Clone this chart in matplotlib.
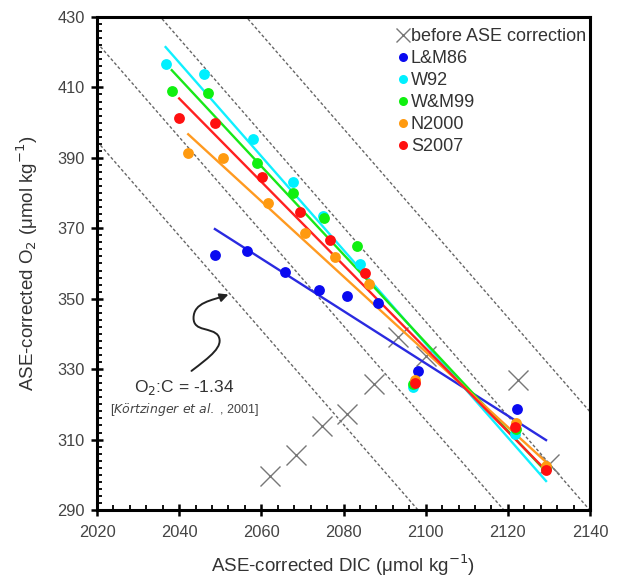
import numpy as np
import matplotlib
matplotlib.use("Agg")
import matplotlib.pyplot as plt
from matplotlib.path import Path
from matplotlib.patches import FancyArrowPatch
from matplotlib.lines import Line2D
from matplotlib.ticker import MultipleLocator

plt.rcParams['font.family'] = ['Liberation Sans', 'DejaVu Sans']

# before ASE correction (gray crosses)
before_dic = [2062.1, 2068.4, 2074.7, 2080.9, 2087.4, 2093.3, 2100.2, 2122.4, 2130.0]
before_o2 = [299.6, 305.6, 313.8, 317.2, 325.7, 339.0, 333.7, 326.9, 303.0]

series_names = ["L&M86", "W92", "W&M99", "N2000", "S2007"]
lm86_dic = [2048.7, 2056.4, 2065.8, 2074.1, 2080.9, 2088.5, 2098.2, 2122.2, 2129.3]
lm86_o2 = [362.4, 363.5, 357.6, 352.6, 350.8, 348.8, 329.5, 318.6, 302.0]
w92_dic = [2036.7, 2046.0, 2058.0, 2067.6, 2075.0, 2083.9, 2097.0, 2121.8, 2129.3]
w92_o2 = [416.6, 413.9, 395.3, 383.2, 373.5, 359.8, 325.0, 311.5, 302.0]
wm99_dic = [2038.2, 2046.9, 2058.9, 2067.8, 2075.3, 2083.4, 2097.0, 2122.0, 2129.3]
wm99_o2 = [409.1, 408.3, 388.6, 380.1, 372.8, 365.0, 325.8, 313.0, 302.0]
n2000_dic = [2042.2, 2050.7, 2061.7, 2070.6, 2077.9, 2086.3, 2097.5, 2122.0, 2129.3]
n2000_o2 = [391.3, 390.1, 377.2, 368.6, 361.9, 354.1, 327.0, 314.6, 302.5]
s2007_dic = [2040.0, 2048.8, 2060.1, 2069.4, 2076.7, 2085.2, 2097.4, 2121.8, 2129.3]
s2007_o2 = [401.4, 399.8, 384.6, 374.7, 366.8, 357.2, 326.1, 313.6, 301.5]

# axis ticks
x_ticks = [2020, 2040, 2060, 2080, 2100, 2120, 2140]
y_ticks = [290, 310, 330, 350, 370, 390, 410, 430]

# reference lines of slope O2:C = -1.34 (intercept constants y + 1.34 x)
ref_slope = -1.34
ref_consts = [3101.5, 3129.5, 3157.5, 3185.5]

series_dic = [lm86_dic, w92_dic, wm99_dic, n2000_dic, s2007_dic]
series_o2 = [lm86_o2, w92_o2, wm99_o2, n2000_o2, s2007_o2]
colors = ['#0a0af0', '#00f0ff', '#10f010', '#ff9a10', '#ff1010']
line_colors = ['#2a2ae0', '#10f0ff', '#18e818', '#ff9a20', '#ff2020']

W, H = 622, 582
fig = plt.figure(figsize=(W / 100, H / 100), dpi=100)
ax = fig.add_axes([97 / W, 1 - 510 / H, (590 - 97) / W, (510 - 17) / H])
ax.set_xlim(2020, 2140)
ax.set_ylim(290, 430)

# reference lines
xx = np.array([2020, 2140])
for c in ref_consts:
    ax.plot(xx, c + ref_slope * xx, color='#666666', lw=1.0,
            linestyle=(0, (2.2, 1.6)), zorder=1)

# crosses
ax.plot(before_dic, before_o2, linestyle='none', marker='x', ms=14, mew=1.0,
        color='#777777', zorder=2)

# fit lines
for xs, ys, lc in zip(series_dic, series_o2, line_colors):
    xs = np.asarray(xs); ys = np.asarray(ys)
    p = np.polyfit(xs, ys, 1)
    xl = np.array([xs.min(), xs.max()])
    ax.plot(xl, np.polyval(p, xl), color=lc, lw=1.7, zorder=3)

# points
for xs, ys, col in zip(series_dic, series_o2, colors):
    ax.plot(xs, ys, linestyle='none', marker='o', ms=7.8, mew=0, color=col,
            zorder=4)

# ticks
ax.set_xticks(x_ticks)
ax.set_yticks(y_ticks)
ax.xaxis.set_minor_locator(MultipleLocator(4))
ax.yaxis.set_minor_locator(MultipleLocator(2))
ax.tick_params(which='major', direction='inout', length=8, width=1.8,
               labelsize=11.8, labelcolor='#444444')
ax.tick_params(axis='x', which='major', pad=7)
ax.tick_params(axis='y', which='major', pad=5)
ax.tick_params(which='minor', direction='in', length=3.5, width=1.3)
ax.tick_params(top=False, right=False, which='both')
for s in ax.spines.values():
    s.set_linewidth(2.2)

ax.set_xlabel('ASE-corrected DIC (μmol kg$^{-1}$)', fontsize=13.5,
              color='#333333', labelpad=9)
ax.set_ylabel('ASE-corrected O$_2$ (μmol kg$^{-1}$)', fontsize=13.5,
              color='#333333', labelpad=12)

# annotation
ax.text(2041.2, 324.9, 'O$_2$:C = -1.34', fontsize=12.5, color='#333333',
        ha='center', va='center')
ax.text(2041.2, 318.4, '[$\\it{Körtzinger\\ et\\ al.}$ , 2001]', fontsize=9,
        color='#444444', ha='center', va='center')
verts = [(2043.0, 329.5), (2047.5, 333.5), (2051.0, 336.5), (2049.5, 339.5),
         (2048.0, 342.0), (2043.5, 340.5), (2043.5, 344.5),
         (2043.5, 349.0), (2048.0, 349.5), (2052.0, 351.2)]
codes = [Path.MOVETO] + [Path.CURVE4] * 9
arrow = FancyArrowPatch(path=Path(verts, codes), arrowstyle='-|>,head_length=5,head_width=2.5',
                        color='#222222', lw=1.4, zorder=5)
ax.add_patch(arrow)

handles = [Line2D([], [], linestyle='none', marker='x', ms=10, mew=1.0,
                  color='#777777')]
handles += [Line2D([], [], linestyle='none', marker='o', ms=6.5, mew=0, color=c)
            for c in colors]
labels = ['before ASE correction'] + series_names
leg = ax.legend(handles, labels, loc='upper right', frameon=False, fontsize=13,
                handlelength=0.45, handletextpad=0.2, labelspacing=0.28,
                borderaxespad=0.0, borderpad=0.0,
                bbox_to_anchor=(0.992, 0.978))
for t in leg.get_texts():
    t.set_color('#333333')

fig.savefig('out.png', dpi=100)
